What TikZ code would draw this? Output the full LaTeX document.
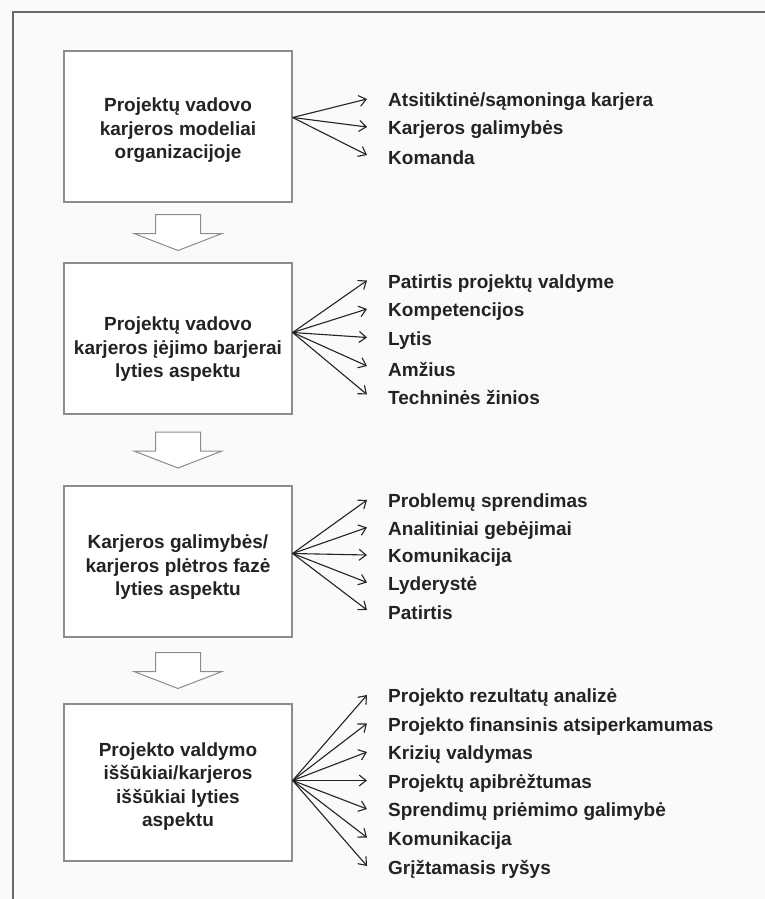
\documentclass[tikz,border=0pt]{standalone}
\usepackage{fontspec}
\setmainfont{Liberation Sans}
\usetikzlibrary{arrows.meta,positioning,calc}
\definecolor{frameline}{RGB}{105,105,105}
\definecolor{boxline}{RGB}{140,140,140}
\definecolor{ink}{RGB}{35,35,35}
\definecolor{paper}{RGB}{250,250,250}
\tikzset{
  >={Straight Barb[length=7pt,width=11pt]},
  stage/.style={draw=boxline,line width=1.3pt,fill=white,minimum width=228pt,
    minimum height=151pt,inner sep=0pt},
  stagetext/.style={align=center,font=\fontsize{19}{23.5}\selectfont\bfseries,
    text=ink,inner sep=0pt},
  item/.style={anchor=west,font=\fontsize{19}{22}\selectfont\bfseries,text=ink,inner sep=0pt},
  fan/.style={->,line width=1.1pt,draw=ink},
  % hollow block arrow between stages
  pics/downarrow/.style={code={
    \draw[boxline,line width=1pt,fill=white] (-22.5,-18) -- (22.5,-18) -- (22.5,1) -- (44,1)
      -- (0,18) -- (-44,1) -- (-22.5,1) -- cycle;
  }},
}
\begin{document}
\begin{tikzpicture}[x=1pt,y=-1pt]
  \fill[paper] (0,0) rectangle (765,899);
  \useasboundingbox (0,0) rectangle (765,899);
  \draw[frameline,line width=1.2pt] (13,899) -- (13,12) -- (765,12);

  % stages
  \node[stage] (s1) at (178,126.5) {};
  \node[stage] (s2) at (178,338.5) {};
  \node[stage] (s3) at (178,561.5) {};
  \node[stage,minimum height=157pt] (s4) at (178,782.5) {};
  \node[stagetext] (t1) at ($(s1)+(0,4)$) {Projektų vadovo\\karjeros modeliai\\organizacijoje};
  \node[stagetext] (t2) at ($(s2)+(0,11)$) {Projektų vadovo\\karjeros įėjimo barjerai\\lyties aspektu};
  \node[stagetext] (t3) at ($(s3)+(0,6)$) {Karjeros galimybės/\\karjeros plėtros fazė\\lyties aspektu};
  \node[stagetext] (t4) at ($(s4)+(0,4)$) {Projekto valdymo\\iššūkiai/karjeros\\iššūkiai lyties\\aspektu};

  \pic at ($(s1.south)!0.5!(s2.north)$) {downarrow};
  \pic at ($(s2.south)!0.5!(s3.north)$) {downarrow};
  \pic at ($(s3.south)!0.5!(s4.north)$) {downarrow};

  \coordinate (f1) at ($(s1.east)+(0,-9)$);
  \coordinate (f2) at ($(s2.east)+(0,-6)$);
  \coordinate (f3) at ($(s3.east)+(0,-8)$);
  \coordinate (f4) at ($(s4.east)+(0,-2)$);

  % items
  \foreach \t [count=\i] in {Atsitiktinė/sąmoninga karjera,Karjeros galimybės,Komanda}
    \node[item] (a\i) at (388,74+28*\i) {\t};
  \foreach \t [count=\i] in {Patirtis projektų valdyme,Kompetencijos,Lytis,Amžius,Techninės žinios}
    \node[item] (b\i) at (388,255+28.5*\i) {\t};
  \foreach \t [count=\i] in {Problemų sprendimas,Analitiniai gebėjimai,Komunikacija,Lyderystė,Patirtis}
    \node[item] (c\i) at (388,475.5+27.5*\i) {\t};
  \foreach \t [count=\i] in {Projekto rezultatų analizė,Projekto finansinis atsiperkamumas,Krizių valdymas,
      Projektų apibrėžtumas,Sprendimų priėmimo galimybė,Komunikacija,Grįžtamasis ryšys}
    \node[item] (d\i) at (388,669.5+28.5*\i) {\t};

  \foreach \i in {1,2,3} \draw[fan] (f1) -- ([xshift=-21pt,yshift=3pt]a\i.west);
  \foreach \i in {1,...,5} \draw[fan] (f2) -- ([xshift=-21pt,yshift=3pt]b\i.west);
  \foreach \i in {1,...,5} \draw[fan] (f3) -- ([xshift=-21pt,yshift=3pt]c\i.west);
  \foreach \i in {1,...,7} \draw[fan] (f4) -- ([xshift=-21pt,yshift=3pt]d\i.west);
\end{tikzpicture}
\end{document}
